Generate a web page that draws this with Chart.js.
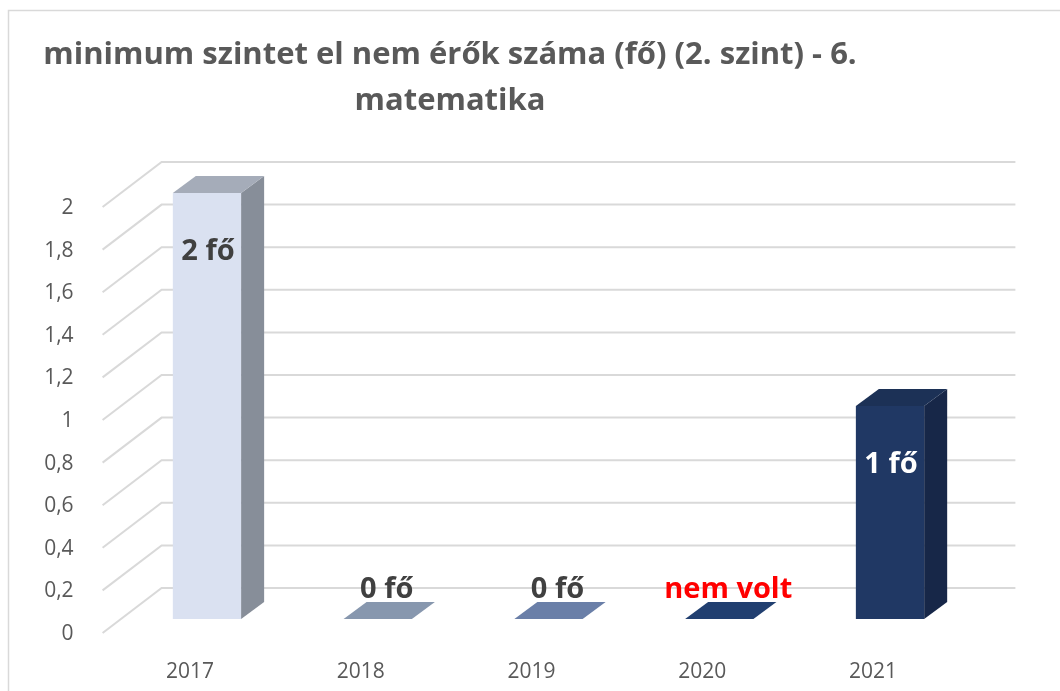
<!DOCTYPE html>
<html>
<head>
<meta charset="utf-8">
<title>minimum szintet el nem érők száma</title>
<script src="https://cdn.jsdelivr.net/npm/chart.js@4"></script>
<style>
  html, body { margin: 0; padding: 0; background: #fff; }
  canvas { display: block; }
</style>
</head>
<body>
<canvas id="chart" width="1060" height="691"></canvas>
<script>
const years = ['2017', '2018', '2019', '2020', '2021'];
const counts = [2, 0, 0, 0, 1];
const valueLabels = ['2 fő', '0 fő', '0 fő', 'nem volt', '1 fő'];
const titleLines = ['minimum szintet el nem érők száma (fő) (2. szint) - 6.', 'matematika'];

// colours of each bar's faces
const frontColors = ['#DAE1F1', '#A1AFC6', '#8193BC', '#274579', '#203864'];
const topColors = ['#A5ACB9', '#8797AE', '#6A7FA8', '#213F70', '#1C3156'];
const sideColors = ['#878E99', '#6E7D94', '#55678F', '#1A3259', '#172748'];
const labelColors = ['#404040', '#404040', '#404040', '#FF0000', '#FFFFFF'];

const TEXT_GRAY = '#595959';
const GRID_GRAY = '#D9D9D9';

// 3D offsets (px)
const DEPTH_X = 23, DEPTH_Y = 17;   // bar depth
const WALL_X = 40, WALL_Y = 31;     // back wall behind bar fronts
const FLOOR_X = 19, FLOOR_Y = 14;   // front edge of the floor

function fillPoly(ctx, pts, color) {
  ctx.fillStyle = color;
  ctx.beginPath();
  ctx.moveTo(pts[0][0], pts[0][1]);
  for (let i = 1; i < pts.length; i++) ctx.lineTo(pts[i][0], pts[i][1]);
  ctx.closePath();
  ctx.fill();
}

// frame and two-line title
const framePlugin = {
  id: 'frame',
  beforeDraw(chart) {
    const ctx = chart.ctx;
    ctx.save();
    ctx.fillStyle = '#fff';
    ctx.fillRect(0, 0, chart.width, chart.height);
    ctx.strokeStyle = GRID_GRAY;
    ctx.lineWidth = 1.5;
    ctx.strokeRect(8.5, 10.5, 1200, 900);
    ctx.fillStyle = TEXT_GRAY;
    ctx.textAlign = 'center';
    ctx.textBaseline = 'alphabetic';
    ctx.font = 'bold 31px "Open Sans", sans-serif';
    ctx.fillText(titleLines[0], 450, 64);
    ctx.fillText(titleLines[1], 450, 110);
    ctx.restore();
  }
};

// back wall gridlines with the diagonal side-wall lines
const wallPlugin = {
  id: 'wall',
  beforeDatasetsDraw(chart) {
    const { ctx, chartArea } = chart;
    const y = chart.scales.y;
    ctx.save();
    ctx.strokeStyle = GRID_GRAY;
    ctx.lineWidth = 2;
    y.ticks.forEach((t) => {
      const py = y.getPixelForValue(t.value);
      ctx.beginPath();
      ctx.moveTo(chartArea.left - FLOOR_X, py + FLOOR_Y);
      ctx.lineTo(chartArea.left + WALL_X, py - WALL_Y);
      ctx.lineTo(chartArea.right + WALL_X, py - WALL_Y);
      ctx.stroke();
    });
    ctx.restore();
  }
};

// side and top faces of the bars, then value labels
const boxPlugin = {
  id: 'box3d',
  afterDatasetsDraw(chart) {
    const ctx = chart.ctx;
    const bars = chart.getDatasetMeta(0).data;
    ctx.save();
    bars.forEach((bar, i) => {
      const { x, y, base, width } = bar.getProps(['x', 'y', 'base', 'width'], true);
      const l = x - width / 2;
      const r = x + width / 2;
      if (base - y > 0.5) {
        fillPoly(ctx, [[r, y], [r + DEPTH_X, y - DEPTH_Y], [r + DEPTH_X, base - DEPTH_Y], [r, base]], sideColors[i]);
      }
      fillPoly(ctx, [[l, y], [l + DEPTH_X, y - DEPTH_Y], [r + DEPTH_X, y - DEPTH_Y], [r, y]], topColors[i]);
    });

    ctx.font = 'bold 29px "Open Sans", sans-serif';
    ctx.textAlign = 'center';
    ctx.textBaseline = 'middle';
    bars.forEach((bar, i) => {
      const { x, y } = bar.getProps(['x', 'y'], true);
      ctx.fillStyle = labelColors[i];
      if (counts[i] > 0) {
        ctx.fillText(valueLabels[i], x + 1, y + 59);
      } else {
        ctx.fillText(valueLabels[i], x + 9, y - 29);
      }
    });
    ctx.restore();
  }
};

const tickFont = { family: '"Open Sans", sans-serif', size: 21 };

new Chart(document.getElementById('chart'), {
  type: 'bar',
  data: {
    labels: years,
    datasets: [{
      data: counts,
      backgroundColor: frontColors,
      borderWidth: 0,
      barPercentage: 0.4,
      categoryPercentage: 1
    }]
  },
  options: {
    responsive: false,
    animation: false,
    devicePixelRatio: 1,
    layout: { padding: { left: 0, right: 84.6, top: 193, bottom: 0 } },
    plugins: {
      legend: { display: false },
      title: { display: false },
      tooltip: { enabled: false }
    },
    scales: {
      x: {
        grid: { display: false },
        border: { display: false },
        ticks: { color: TEXT_GRAY, font: tickFont, padding: 32, labelOffset: -17 },
        afterFit(scale) { scale.height = 72; }
      },
      y: {
        min: 0,
        max: 2,
        grid: { display: false },
        border: { display: false },
        ticks: {
          stepSize: 0.2,
          color: TEXT_GRAY,
          font: tickFont,
          padding: 40,
          labelOffset: 15,
          callback: (v) => String(Number(v.toFixed(1))).replace('.', ',')
        },
        afterFit(scale) { scale.width = 121.6; }
      }
    }
  },
  plugins: [framePlugin, wallPlugin, boxPlugin]
});
</script>
</body>
</html>
